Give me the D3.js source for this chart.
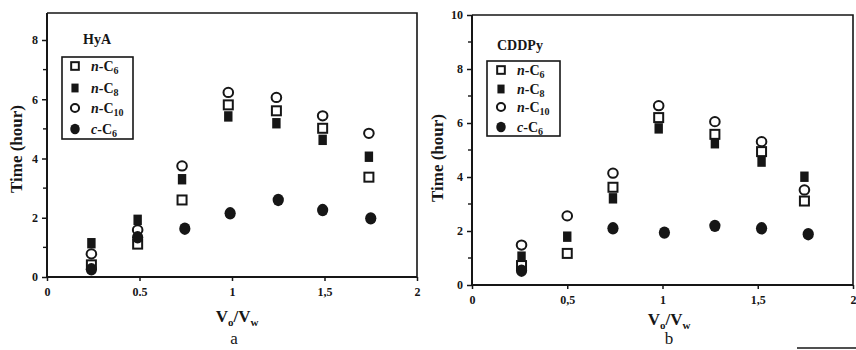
<!DOCTYPE html>
<html>
<head>
<meta charset="utf-8">
<script src="https://cdn.jsdelivr.net/npm/d3@7/dist/d3.min.js"></script>
<style>
  html, body { margin: 0; padding: 0; background: #fff; }
  svg { display: block; }
  text { font-family: "Liberation Serif", "DejaVu Serif", serif; fill: #161616; }
</style>
</head>
<body>
<svg id="chart" width="856" height="350"></svg>
<script>
// Series labels (legend order)
const seriesNames = ["n-C6", "n-C8", "n-C10", "c-C6"];

// Panel a: HyA
const xA      = [0.24, 0.49, 0.73, 0.98, 1.24, 1.49, 1.74];
const xA_cC6  = [0.24, 0.49, 0.745, 0.99, 1.25, 1.49, 1.75];
const nC6A    = [0.41, 1.11, 2.60, 5.81, 5.61, 5.02, 3.37];
const nC8A    = [1.14, 1.93, 3.30, 5.42, 5.19, 4.63, 4.06];
const nC10A   = [0.78, 1.59, 3.75, 6.23, 6.06, 5.44, 4.85];
const cC6A    = [0.26, 1.34, 1.63, 2.15, 2.60, 2.26, 1.98];

// Panel b: CDDPy
const xB      = [0.26, 0.50, 0.74, 0.98, 1.275, 1.52, 1.745];
const xB_cC6  = [0.26, 0.50, 0.74, 1.01, 1.275, 1.52, 1.765];
const nC6B    = [0.72, 1.17, 3.62, 6.20, 5.58, 4.94, 3.11];
const nC8B    = [1.05, 1.79, 3.21, 5.80, 5.25, 4.57, 4.01];
const nC10B   = [1.48, 2.56, 4.14, 6.64, 6.05, 5.31, 3.52];
const cC6B    = [0.53, null, 2.10, 1.94, 2.19, 2.10, 1.88];

// Tick labels
const xTicks = [0, 0.5, 1, 1.5, 2];
const xTickLabelsA = ["0", "0.5", "1", "1,5", "2"];
const xTickLabelsB = ["0", "0,5", "1", "1,5", "2"];
const yTicksA = [0, 2, 4, 6, 8];
const yTicksB = [0, 2, 4, 6, 8, 10];

const INK = "#161616";
const svg = d3.select("#chart");

// marker painters
function drawMarker(g, kind, cx, cy, s) {
  s = s || 1;
  if (kind === "n-C6") {
    g.append("rect").attr("x", cx - 4.5 * s).attr("y", cy - 4.5 * s)
      .attr("width", 9 * s).attr("height", 9 * s)
      .attr("fill", "#fff").attr("stroke", INK).attr("stroke-width", 2);
  } else if (kind === "n-C8") {
    g.append("rect").attr("x", cx - 4.2 * s).attr("y", cy - 5.2 * s)
      .attr("width", 8.4 * s).attr("height", 10.4 * s).attr("fill", INK);
  } else if (kind === "n-C10") {
    g.append("ellipse").attr("cx", cx).attr("cy", cy).attr("rx", 4.8 * s).attr("ry", 4.6 * s)
      .attr("fill", "#fff").attr("stroke", INK).attr("stroke-width", 2);
  } else {
    g.append("ellipse").attr("cx", cx).attr("cy", cy).attr("rx", 5.6 * s).attr("ry", 6.2 * s)
      .attr("fill", INK);
  }
}

// legend label like "n-C10" with italic prefix and subscript number
function legendLabel(g, name, x, y) {
  const [pre, rest] = name.split("-");
  const num = rest.slice(1);
  const t = g.append("text").attr("x", x).attr("y", y)
    .attr("font-size", 14).attr("font-weight", "bold");
  t.append("tspan").attr("font-style", "italic").text(pre);
  t.append("tspan").text("-C");
  t.append("tspan").attr("font-size", 10).attr("dy", 3).text(num);
}

function drawPanel(cfg) {
  const x = d3.scaleLinear().domain([0, 2]).range([cfg.left, cfg.right]);
  const y = d3.scaleLinear().domain([0, cfg.yMax]).range([cfg.bottom, cfg.top]);
  const g = svg.append("g");

  // frame: top and right sides
  g.append("path")
    .attr("d", `M${cfg.left},${cfg.frameTop}H${cfg.right}V${cfg.bottom}`)
    .attr("fill", "none").attr("stroke", INK).attr("stroke-width", 1.6);

  // y axis with major and minor ticks
  const yAxis = d3.axisLeft(y).tickValues(cfg.yTicks).tickSize(5).tickPadding(4)
    .tickFormat(d3.format("d"));
  const ya = g.append("g").attr("transform", `translate(${cfg.left},0)`).call(yAxis);
  ya.select(".domain").attr("stroke", INK).attr("stroke-width", 2)
    .attr("d", `M0,${cfg.frameTop}V${cfg.bottom}`);
  ya.selectAll(".tick line").attr("stroke", INK).attr("stroke-width", 1.5);
  ya.selectAll(".tick text").attr("font-size", 12).attr("font-weight", "bold")
    .attr("font-family", "Liberation Serif, serif").attr("fill", INK);
  const minor = d3.range(1, cfg.yTicks[cfg.yTicks.length - 1], 2);
  g.selectAll(".minorY").data(minor).enter().append("line")
    .attr("x1", cfg.left - 4).attr("x2", cfg.left)
    .attr("y1", d => y(d)).attr("y2", d => y(d))
    .attr("stroke", INK).attr("stroke-width", 1.4);

  // x axis
  const xAxis = d3.axisBottom(x).tickValues(xTicks).tickSize(4).tickPadding(6)
    .tickFormat((d, i) => cfg.xTickLabels[i]);
  const xa = g.append("g").attr("transform", `translate(0,${cfg.bottom})`).call(xAxis);
  xa.select(".domain").attr("stroke", INK).attr("stroke-width", 2)
    .attr("d", `M${cfg.left},0H${cfg.right}`);
  xa.selectAll(".tick line").attr("stroke", INK).attr("stroke-width", 1.5);
  xa.selectAll(".tick text").attr("font-size", 12).attr("font-weight", "bold")
    .attr("font-family", "Liberation Serif, serif").attr("fill", INK);

  // data points, drawn in legend order
  const series = [
    { name: "n-C6",  xs: cfg.xs,    ys: cfg.nC6 },
    { name: "n-C8",  xs: cfg.xs,    ys: cfg.nC8 },
    { name: "n-C10", xs: cfg.xs,    ys: cfg.nC10 },
    { name: "c-C6",  xs: cfg.xsC,   ys: cfg.cC6 }
  ];
  const pts = g.append("g");
  series.forEach(s => {
    s.ys.forEach((v, i) => {
      if (v == null) return;
      drawMarker(pts, s.name, x(s.xs[i]), y(v), 1);
    });
  });

  // title
  g.append("text").attr("x", cfg.titleX).attr("y", cfg.titleY)
    .attr("font-size", 14).attr("font-weight", "bold").text(cfg.title);

  // legend
  const lg = g.append("g");
  lg.append("rect").attr("x", cfg.lgX).attr("y", cfg.lgY)
    .attr("width", cfg.lgW).attr("height", cfg.lgH)
    .attr("fill", "#fff").attr("stroke", INK).attr("stroke-width", 1.6);
  seriesNames.forEach((n, i) => {
    const ry = cfg.lgRows[i];
    drawMarker(lg, n, cfg.lgMarkX, ry, 0.85);
    legendLabel(lg, n, cfg.lgTextX, ry + 5);
  });

  // axis titles
  g.append("text")
    .attr("transform", `translate(${cfg.yLabelX},${cfg.yLabelY}) rotate(-90)`)
    .attr("text-anchor", "middle").attr("font-size", 17).attr("font-weight", "bold")
    .text("Time (hour)");

  const xl = g.append("text").attr("x", cfg.xLabelX).attr("y", cfg.xLabelY)
    .attr("text-anchor", "middle").attr("font-size", 17).attr("font-weight", "bold");
  xl.append("tspan").text("V");
  xl.append("tspan").attr("font-size", 11).attr("dy", 4).text("o");
  xl.append("tspan").attr("dy", -4).text("/V");
  xl.append("tspan").attr("font-size", 11).attr("dy", 4).text("w");

  g.append("text").attr("x", cfg.letterX).attr("y", cfg.letterY)
    .attr("text-anchor", "middle").attr("font-size", 17).text(cfg.letter);
}

drawPanel({
  left: 47, right: 417, bottom: 277, top: 40, yMax: 8, frameTop: 13,
  yTicks: yTicksA, xTickLabels: xTickLabelsA,
  xs: xA, xsC: xA_cC6, nC6: nC6A, nC8: nC8A, nC10: nC10A, cC6: cC6A,
  title: "HyA", titleX: 83, titleY: 44,
  lgX: 62, lgY: 57, lgW: 71, lgH: 82, lgRows: [66, 88, 108, 129], lgMarkX: 75, lgTextX: 91,
  yLabelX: 22, yLabelY: 149, xLabelX: 237, xLabelY: 322,
  letter: "a", letterX: 234, letterY: 344
});

drawPanel({
  left: 472, right: 853, bottom: 285, top: 15, yMax: 10, frameTop: 15,
  yTicks: yTicksB, xTickLabels: xTickLabelsB,
  xs: xB, xsC: xB_cC6, nC6: nC6B, nC8: nC8B, nC10: nC10B, cC6: cC6B,
  title: "CDDPy", titleX: 497, titleY: 50,
  lgX: 487, lgY: 61, lgW: 73, lgH: 75, lgRows: [70, 89, 107, 127], lgMarkX: 501, lgTextX: 517,
  yLabelX: 443, yLabelY: 158, xLabelX: 669, xLabelY: 325,
  letter: "b", letterX: 669, letterY: 344
});

// short rule at the lower right edge
svg.append("line").attr("x1", 797).attr("x2", 856).attr("y1", 348).attr("y2", 348)
  .attr("stroke", INK).attr("stroke-width", 1.5);
</script>
</body>
</html>
